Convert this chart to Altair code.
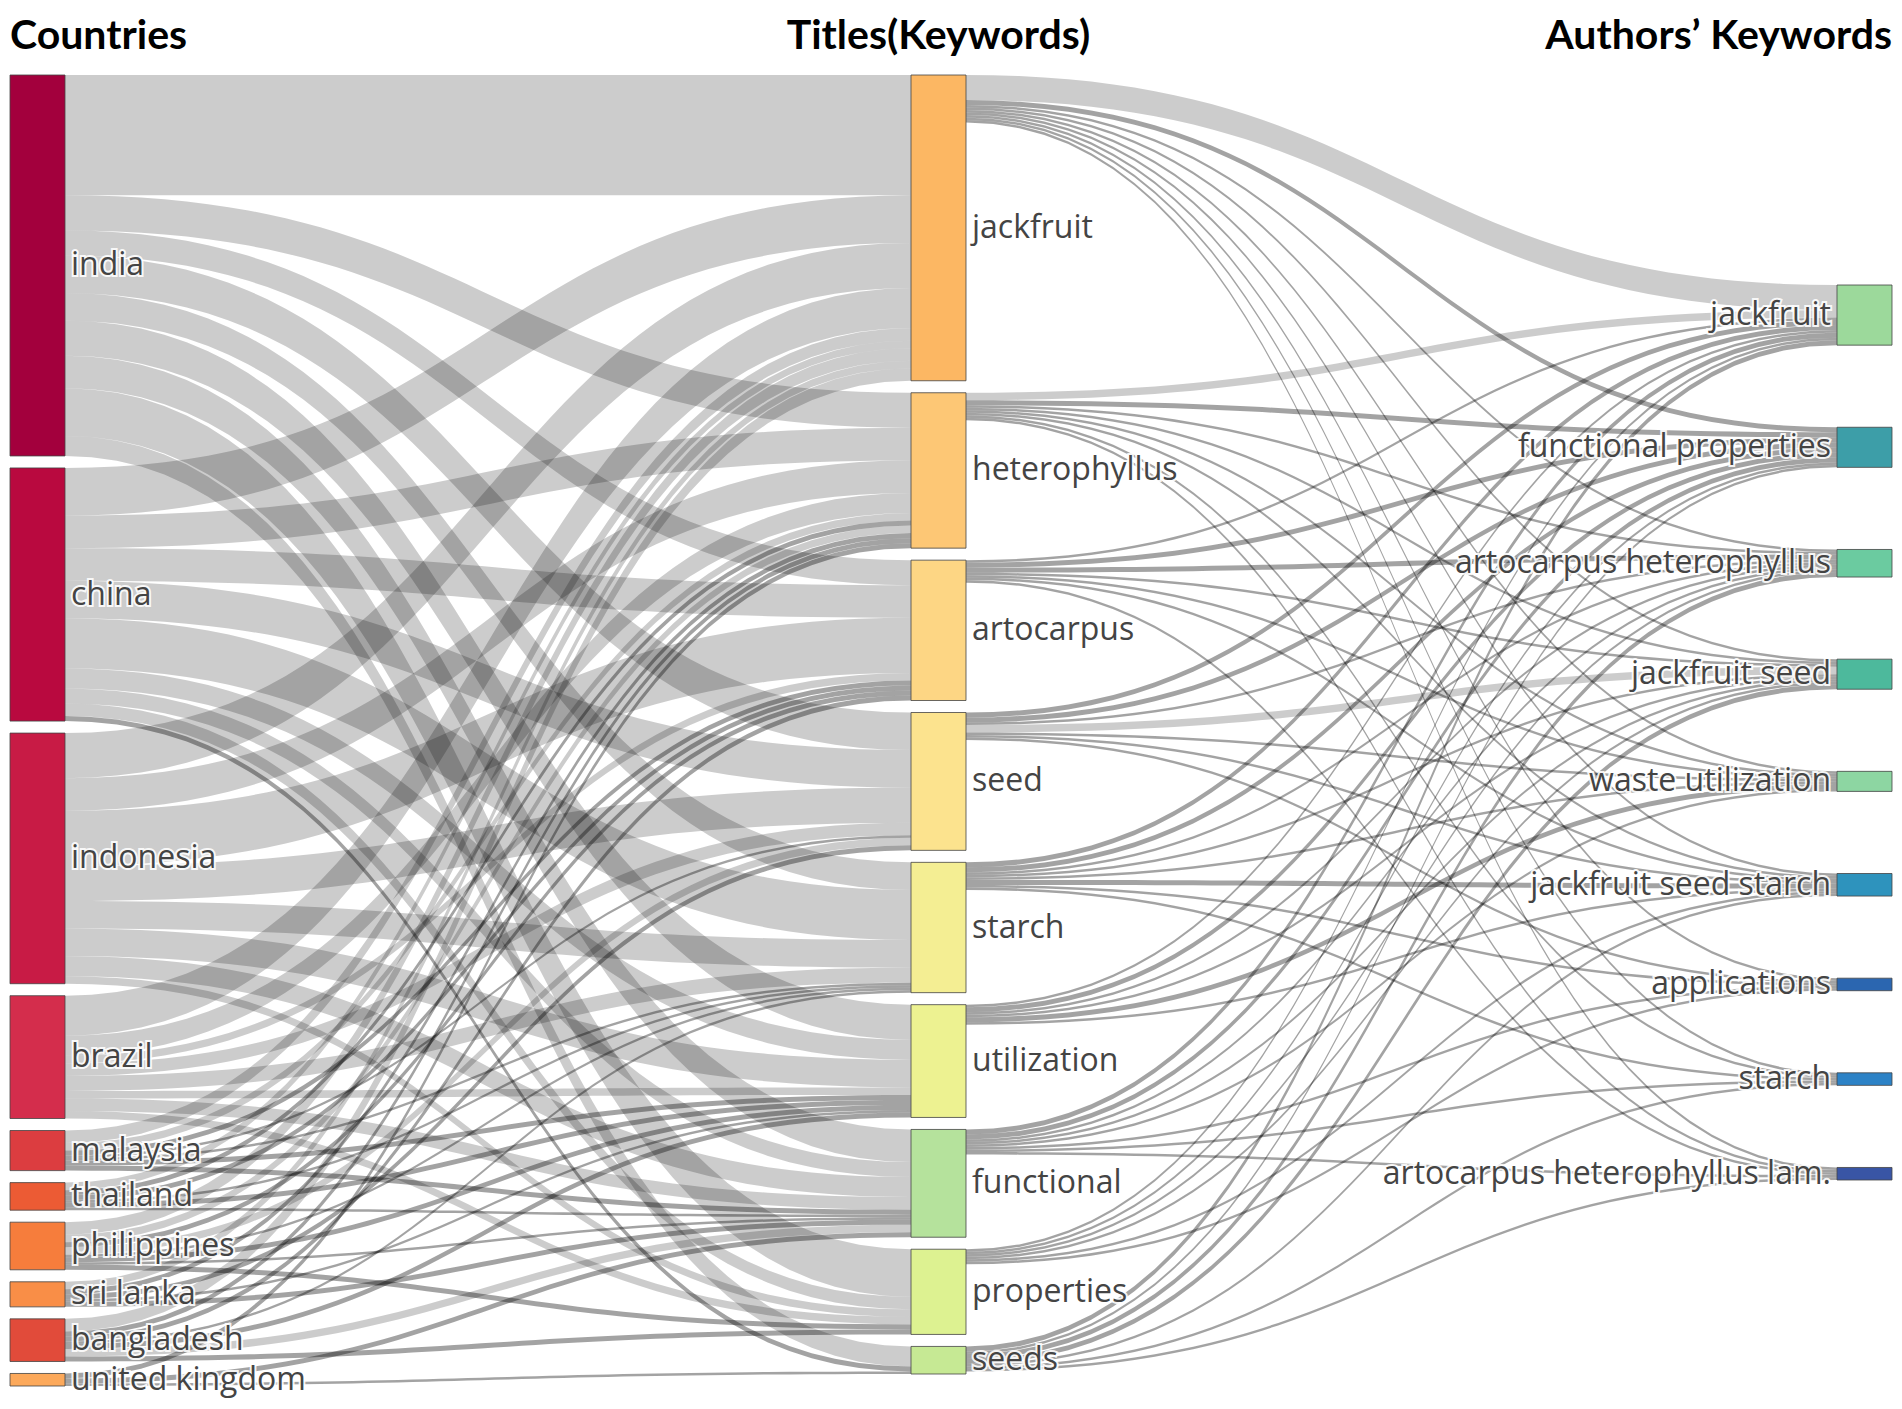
import altair as alt
import pandas as pd
import numpy as np

# ---------------- data ----------------
countries = ["india", "china", "indonesia", "brazil", "malaysia", "thailand",
             "philippines", "sri lanka", "bangladesh", "united kingdom"]
country_colors = ["#A3003D", "#B9093F", "#C81B45", "#D42D4C", "#DC3D40", "#EC5B34",
                  "#F67D3C", "#F98E47", "#E14B3A", "#FCA95B"]

titles = ["jackfruit", "heterophyllus", "artocarpus", "seed", "starch",
          "utilization", "functional", "properties", "seeds"]
title_colors = ["#FCB763", "#FDC775", "#FDD684", "#FCE38E", "#F4EE93",
                "#EDF291", "#B5E29C", "#DDF291", "#C6E994"]

authors = ["jackfruit", "functional properties", "artocarpus heterophyllus",
           "jackfruit seed", "waste utilization", "jackfruit seed starch",
           "applications", "starch", "artocarpus heterophyllus lam."]
author_colors = ["#9CD99B", "#3D9EA8", "#6BCBA0", "#4DB99C", "#8DD6A2",
                 "#2E93BD", "#2B66B0", "#2C82C6", "#3955A5"]

# country -> title flows (columns follow `titles`)
india_flows       = [48, 14, 10, 15, 11, 14, 13, 19, 8]
china_flows       = [19, 13, 13, 15, 20, 8, 6, 5, 2]
indonesia_flows   = [18, 13, 22, 14, 11, 11, 8, 3, 0]
brazil_flows      = [16, 8, 3, 5, 6, 3, 5, 3, 0]
malaysia_flows    = [5, 3, 2, 1, 1, 2, 2, 0, 0]
thailand_flows    = [3, 2, 2, 0, 1, 2, 1, 0, 0]
philippines_flows = [5, 3, 2, 3, 1, 2, 1, 2, 0]
srilanka_flows    = [3, 2, 0, 2, 0, 1, 2, 0, 0]
bangladesh_flows  = [5, 2, 2, 0, 1, 2, 3, 2, 0]
uk_flows          = [0, 2, 0, 0, 0, 0, 2, 0, 1]
country_flows = [india_flows, china_flows, indonesia_flows, brazil_flows,
                 malaysia_flows, thailand_flows, philippines_flows,
                 srilanka_flows, bangladesh_flows, uk_flows]

# title -> author keyword flows (columns follow `authors`)
t_jackfruit     = [10, 2, 1, 1, 1, 1, 1, 1, 1]
t_heterophyllus = [3, 2, 1, 1, 1, 1, 0, 1, 1]
t_artocarpus    = [1, 2, 2, 1, 1, 1, 0, 0, 1]
t_seed          = [2, 2, 1, 3, 1, 1, 1, 0, 0]
t_starch        = [2, 2, 1, 1, 1, 2, 1, 1, 0]
t_utilization   = [1, 2, 1, 1, 2, 1, 0, 0, 0]
t_functional    = [2, 2, 1, 1, 1, 0, 1, 1, 1]
t_properties    = [1, 1, 1, 1, 0, 1, 1, 0, 0]
t_seeds         = [2, 1, 2, 2, 0, 1, 0, 1, 1]
title_flows = [t_jackfruit, t_heterophyllus, t_artocarpus, t_seed, t_starch,
               t_utilization, t_functional, t_properties, t_seeds]

column_titles = ["Countries", "Titles(Keywords)", "Authors\u2019 Keywords"]

# ---------------- layout (sankey) ----------------
W, H = 1886, 1393
col_x = [10, 911, 1837]
node_w = 55
top, bottom = 75, 1386
pad = 12.0
right_top, right_bottom = 285, 1180

links = []  # (src_col, src_idx, tgt_idx, value)
for i, row in enumerate(country_flows):
    for j, v in enumerate(row):
        if v > 0:
            links.append((0, i, j, v))
for i, row in enumerate(title_flows):
    for j, v in enumerate(row):
        if v > 0:
            links.append((1, i, j, v))

c_out = [sum(r) for r in country_flows]
t_in = [sum(country_flows[i][j] for i in range(len(countries))) for j in range(len(titles))]
t_out = [sum(r) for r in title_flows]
a_in = [sum(title_flows[i][j] for i in range(len(titles))) for j in range(len(authors))]

vals = [c_out, [max(a, b) for a, b in zip(t_in, t_out)], a_in]
ky = min((bottom - top - (len(c) - 1) * pad) / sum(c) for c in vals)

ys = []
for ci, col in enumerate(vals):
    hs = [v * ky for v in col]
    if ci < 2:
        y, g = top, pad
    else:
        y, g = right_top, (right_bottom - right_top - sum(hs)) / (len(hs) - 1)
    pos = []
    for h in hs:
        pos.append((y, y + h))
        y += h + g
    ys.append(pos)

names = [countries, titles, authors]
colors = [country_colors, title_colors, author_colors]

node_rows = []
for ci in range(3):
    for k, (y0, y1) in enumerate(ys[ci]):
        node_rows.append(dict(name=names[ci][k], x=col_x[ci], x2=col_x[ci] + node_w,
                              y=y0, y2=y1, color=colors[ci][k], col=ci))
nodes_df = pd.DataFrame(node_rows)

# link stacking: at source ordered by target position, at target by source position
link_pos = {}
for ci in range(2):
    cl = [l for l in links if l[0] == ci]
    for s in range(len(vals[ci])):
        y = ys[ci][s][0]
        for l in sorted([l for l in cl if l[1] == s], key=lambda l: ys[ci + 1][l[2]][0]):
            link_pos.setdefault(l, {})["sy"] = y
            y += l[3] * ky
    for t in range(len(vals[ci + 1])):
        y = ys[ci + 1][t][0]
        for l in sorted([l for l in cl if l[2] == t], key=lambda l: ys[ci][l[1]][0]):
            link_pos.setdefault(l, {})["ty"] = y
            y += l[3] * ky

tt = np.linspace(0, 1, 48)
link_rows = []
for n, l in enumerate(links):
    ci, s, t, v = l
    x0 = col_x[ci] + node_w
    x1 = col_x[ci + 1]
    xm = (x0 + x1) / 2
    y0 = link_pos[l]["sy"]
    y1 = link_pos[l]["ty"]
    w = v * ky
    xs = (1 - tt) ** 3 * x0 + 3 * (1 - tt) ** 2 * tt * xm + 3 * (1 - tt) * tt ** 2 * xm + tt ** 3 * x1
    yy = (1 - tt) ** 3 * y0 + 3 * (1 - tt) ** 2 * tt * y0 + 3 * (1 - tt) * tt ** 2 * y1 + tt ** 3 * y1
    thin = "thin" if v <= 2 else "wide"
    for a, b in zip(xs, yy):
        link_rows.append(dict(link=n, kind=thin, x=a, y=b, y2=b + w))
links_df = pd.DataFrame(link_rows)

label_rows = []
for r in node_rows:
    cy = (r["y"] + r["y2"]) / 2
    if r["col"] < 2:
        label_rows.append(dict(name=r["name"], x=r["x2"] + 6, y=cy, align="left"))
    else:
        label_rows.append(dict(name=r["name"], x=r["x"] - 6, y=cy, align="right"))
labels_df = pd.DataFrame(label_rows)

head_df = pd.DataFrame(dict(name=column_titles, x=[10, col_x[1] + node_w / 2, 1892],
                            y=[49, 49, 49], align=["left", "center", "right"]))

xs_ = alt.Scale(domain=[8, 8 + W], nice=False, zero=False)
ys_ = alt.Scale(domain=[8, 8 + H], nice=False, zero=False, reverse=True)
X = lambda f: alt.X(f, type="quantitative", scale=xs_, axis=None)
Y = lambda f: alt.Y(f, type="quantitative", scale=ys_, axis=None)

link_layer = alt.Chart(links_df).mark_area(orient="vertical", color="black").encode(
    x=X("x"), y=Y("y"), y2="y2", detail="link:N",
    fillOpacity=alt.FillOpacity("kind:N", scale=alt.Scale(domain=["wide", "thin"], range=[0.2, 0.36]),
                                legend=None)
)

node_layer = alt.Chart(nodes_df).mark_rect(stroke="#444", strokeWidth=1, strokeOpacity=0.8).encode(
    x=X("x"), x2="x2", y=Y("y"), y2="y2",
    color=alt.Color("color:N", scale=None)
)

def label_layers(df, align):
    d = df[df["align"] == align]
    halo = alt.Chart(d).mark_text(align=align, baseline="middle", font="Open Sans", fontSize=32,
                                  stroke="white", strokeWidth=4, strokeOpacity=0.9, color="white").encode(
        x=X("x"), y=Y("y"), text="name:N")
    txt = alt.Chart(d).mark_text(align=align, baseline="middle", font="Open Sans", fontSize=32,
                                 color="#444").encode(
        x=X("x"), y=Y("y"), text="name:N")
    return [halo, txt]

heads = []
for al in ["left", "center", "right"]:
    d = head_df[head_df["align"] == al]
    heads.append(alt.Chart(d).mark_text(align=al, baseline="alphabetic", font="Lato", fontSize=41,
                                        fontWeight="bold", color="black").encode(
        x=X("x"), y=Y("y"), text="name:N"))

chart = alt.layer(
    link_layer, node_layer,
    *label_layers(labels_df, "left"), *label_layers(labels_df, "right"),
    *heads
).properties(width=W, height=H, padding=0).configure_view(stroke=None)

chart.save("out.html", embed_options={"renderer": "svg", "actions": False})
